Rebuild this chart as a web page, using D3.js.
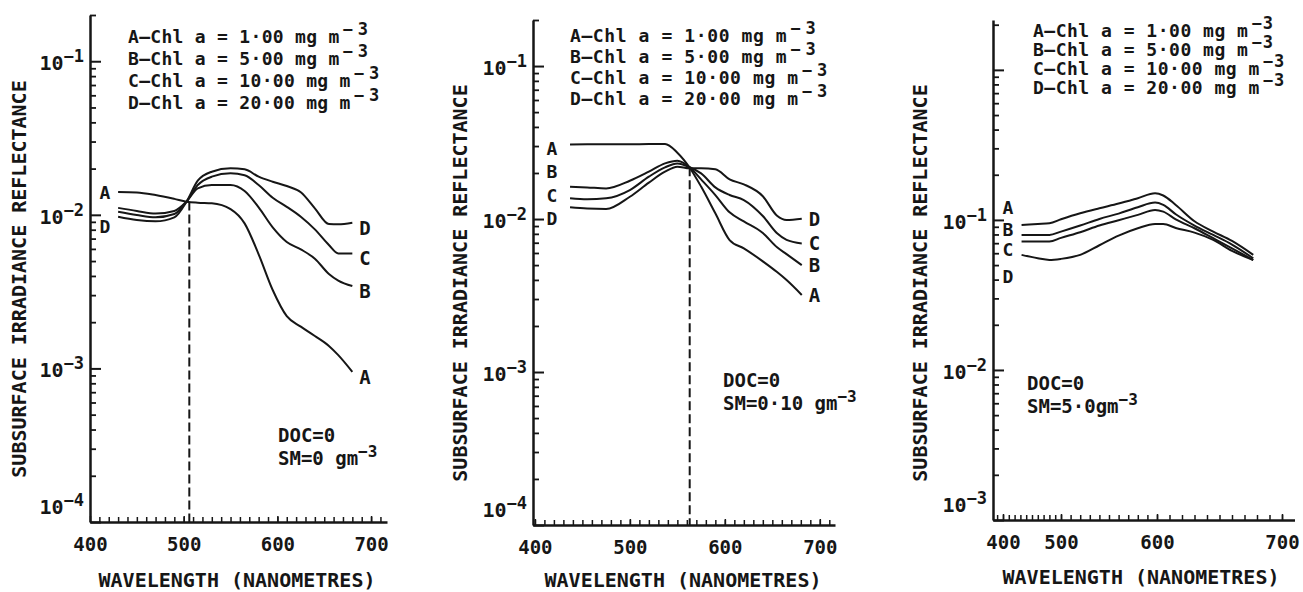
<!DOCTYPE html>
<html>
<head>
<meta charset="utf-8">
<script src="https://cdn.jsdelivr.net/npm/d3@7"></script>
<style>
  body { margin: 0; background: #fff; }
  svg text { font-family: "DejaVu Sans Mono", monospace; font-weight: bold; fill: #161616; }
  .axis path, .axis line { stroke: #161616; }
</style>
</head>
<body>
<svg id="chart" width="1303" height="592"></svg>
<script>
// Values (reflectance, log scale)
const seriesNames = ["A", "B", "C", "D"];
const chlLabels = ["1·00", "5·00", "10·00", "20·00"];
const wavelengthTicks = [400, 500, 600, 700];

// Panel 1: DOC = 0, SM = 0 g m-3
const p1Wavelength = [430, 450, 470, 490, 503, 515, 530, 550, 565, 580, 595, 610, 625, 640, 655, 665, 680];
const p1A = [0.0141, 0.0140, 0.01345, 0.0127, 0.01218, 0.0120, 0.0119, 0.0109, 0.0088, 0.00553, 0.00324, 0.00219, 0.00187, 0.001625, 0.0014, 0.00122, 0.00095];
const p1B = [0.0111, 0.0106, 0.0102, 0.0106, 0.01218, 0.01488, 0.01563, 0.01563, 0.01429, 0.01118, 0.00829, 0.00666, 0.00596, 0.00518, 0.00412, 0.00373, 0.00344];
const p1C = [0.01048, 0.00997, 0.00963, 0.01012, 0.01218, 0.01563, 0.01772, 0.01862, 0.01808, 0.01563, 0.01293, 0.01127, 0.00972, 0.00804, 0.00636, 0.00561, 0.00561];
const p1D = [0.00972, 0.00925, 0.00907, 0.00963, 0.01218, 0.01668, 0.01909, 0.02007, 0.01977, 0.01772, 0.01643, 0.0154, 0.01401, 0.01102, 0.00871, 0.00868, 0.00888];
const p1Decades = [1e-1, 1e-2, 1e-3, 1e-4];
const p1Crossing = [506, 0.0122];
const p1LeftTags = ["A", "D"];
const p1LeftTagAt = [0.01406, 0.00836];
const p1Note = ["DOC=0", "SM=0 gm"];

// Panel 2: DOC = 0, SM = 0.10 g m-3
const p2Wavelength = [437, 455, 475, 500, 520, 537, 550, 563, 575, 590, 605, 620, 640, 655, 665, 681];
const p2A = [0.03076, 0.0308, 0.0308, 0.0308, 0.0309, 0.0309, 0.02715, 0.02165, 0.0163, 0.0109, 0.00729, 0.00643, 0.00529, 0.0045, 0.00399, 0.00319];
const p2B = [0.01627, 0.0161, 0.01586, 0.0178, 0.0204, 0.0231, 0.02406, 0.0218, 0.01816, 0.01435, 0.01106, 0.00965, 0.0081, 0.00653, 0.0059, 0.005];
const p2C = [0.01365, 0.01345, 0.01365, 0.01547, 0.01891, 0.02176, 0.0231, 0.0218, 0.01988, 0.0161, 0.01435, 0.01331, 0.01046, 0.00806, 0.0073, 0.00693];
const p2D = [0.01192, 0.0117, 0.01163, 0.01399, 0.0173, 0.02039, 0.02198, 0.02144, 0.02144, 0.02112, 0.01816, 0.01686, 0.0141, 0.0105, 0.00985, 0.01005];
const p2Decades = [1e-1, 1e-2, 1e-3, 1e-4];
const p2Crossing = [563, 0.0218];
const p2LeftTags = ["A", "B", "C", "D"];
const p2LeftTagAt = [0.0291, 0.0203, 0.01435, 0.01015];
const p2Note = ["DOC=0", "SM=0·10 gm"];

// Panel 3: DOC = 0, SM = 5.0 g m-3
const p3Wavelength = [432, 460, 480, 500, 520, 540, 560, 580, 598, 605, 615, 630, 645, 660, 677];
const p3A = [0.0926, 0.094, 0.095, 0.101, 0.1108, 0.1196, 0.1285, 0.1395, 0.1506, 0.1455, 0.1259, 0.098, 0.0836, 0.0724, 0.0585];
const p3B = [0.0794, 0.0794, 0.0794, 0.0836, 0.0917, 0.1015, 0.1102, 0.1215, 0.1305, 0.1259, 0.1091, 0.0917, 0.0794, 0.0685, 0.0555];
const p3C = [0.0717, 0.0717, 0.0717, 0.0759, 0.0828, 0.0917, 0.0995, 0.108, 0.1166, 0.1136, 0.101, 0.088, 0.0755, 0.0647, 0.0541];
const p3D = [0.0585, 0.0555, 0.0541, 0.055, 0.0585, 0.0678, 0.0786, 0.088, 0.094, 0.094, 0.0884, 0.0823, 0.0736, 0.0622, 0.0541];
const p3Decades = [1e-1, 1e-2, 1e-3];
const p3LeftTags = ["A", "B", "C", "D"];
const p3LeftTagAt = [0.1202, 0.0858, 0.0631, 0.0417];
const p3Note = ["DOC=0", "SM=5·0gm"];

const svg = d3.select("#chart");

const panels = [
    {
        wl: p1Wavelength, series: [p1A, p1B, p1C, p1D], decades: p1Decades, crossing: p1Crossing,
        leftTags: p1LeftTags, leftTagAt: p1LeftTagAt, note: p1Note,
        xDomain: [400, 717], xRange: [90, 387], yDomain: [1e-4, 0.2], bottom: 522, top: 15,
        leftTagX: 105, rightTagDy: 5, legend: { x: 128, y: 43, gap: 22, spacing: 0.3, supSpacing: 5 },
        noteAt: [278, 442], yTitle: [19, 279], xTitle: [237, 587]
    },
    {
        wl: p2Wavelength, series: [p2A, p2B, p2C, p2D], decades: p2Decades, crossing: p2Crossing,
        leftTags: p2LeftTags, leftTagAt: p2LeftTagAt, note: p2Note,
        xDomain: [398, 716], xRange: [533, 835], yDomain: [1e-4, 0.2], bottom: 525, top: 20,
        leftTagX: 552, rightTagDy: 0, legend: { x: 570, y: 42, gap: 21, spacing: 0.6, supSpacing: 5 },
        noteAt: [723, 387], yTitle: [460, 283], xTitle: [683, 587]
    },
    {
        wl: p3Wavelength, series: [p3A, p3B, p3C, p3D], decades: p3Decades, crossing: null,
        leftTags: p3LeftTags, leftTagAt: p3LeftTagAt, note: p3Note,
        // the scan's tick labels are unevenly spaced, so this axis is piecewise
        xDomain: [383, 400, 500, 600, 700, 710], xRange: [993, 1003, 1061, 1157, 1282, 1294.5],
        yDomain: [1e-3, 2.15], bottom: 520, top: 20,
        leftTagX: 1008, rightTagDy: 0, legend: { x: 1033, y: 37, gap: 19, spacing: 0.5, supSpacing: 1 },
        noteAt: [1027, 390], yTitle: [920, 283], xTitle: [1141, 584], noRightTags: true
    }
];

function drawPanel(cfg) {
    const g = svg.append("g");
    const x = d3.scaleLinear().domain(cfg.xDomain).range(cfg.xRange);
    const y = d3.scaleLog().domain(cfg.yDomain).range([cfg.bottom, cfg.top]);
    const x0 = cfg.xRange[0];
    const isDecade = v => Math.abs(Math.log10(v) - Math.round(Math.log10(v))) < 1e-6;

    // y axis: minor ticks, then decade ticks
    g.append("g").attr("class", "axis")
        .attr("transform", `translate(${x0},0)`)
        .call(d3.axisLeft(y).tickValues(y.ticks().filter(v => !isDecade(v)))
            .tickSize(-6).tickSizeOuter(0).tickFormat(""))
        .call(a => a.select(".domain").attr("stroke-width", 2.5))
        .call(a => a.selectAll(".tick line").attr("stroke-width", 1.8));

    g.append("g").attr("class", "axis")
        .attr("transform", `translate(${x0},0)`)
        .call(d3.axisLeft(y).tickValues(y.ticks().filter(isDecade))
            .tickSize(-11).tickSizeOuter(0).tickFormat(""))
        .call(a => a.select(".domain").remove())
        .call(a => a.selectAll(".tick line").attr("stroke-width", 2));

    // decade labels 10^-n
    cfg.decades.forEach(v => {
        const yy = v === cfg.yDomain[0] ? y(v) - 8 : y(v) + 9;
        const t = g.append("text")
            .attr("x", x0 - 6).attr("y", yy)
            .attr("text-anchor", "end")
            .style("font-size", "20px");
        t.append("tspan").text("10");
        t.append("tspan").attr("dy", -8).style("font-size", "17px")
            .text("−" + Math.round(-Math.log10(v)));
    });

    // x axis: 10 nm minor ticks, labelled hundreds
    const [xmin, xmax] = d3.extent(cfg.xDomain);
    g.append("g").attr("class", "axis")
        .attr("transform", `translate(0,${cfg.bottom})`)
        .call(d3.axisBottom(x).tickValues(d3.range(390, 720, 10).filter(v => v > xmin && v < xmax))
            .tickSize(-5).tickSizeOuter(0).tickFormat(""))
        .call(a => a.select(".domain").attr("stroke-width", 2.5))
        .call(a => a.selectAll(".tick line").attr("stroke-width", 1.5));

    g.append("g").attr("class", "axis")
        .attr("transform", `translate(0,${cfg.bottom})`)
        .call(d3.axisBottom(x).tickValues(wavelengthTicks)
            .tickSize(-6).tickSizeOuter(0).tickPadding(16).tickFormat(d3.format("d")))
        .call(a => a.select(".domain").remove())
        .call(a => a.selectAll(".tick line").attr("stroke-width", 1.5))
        .call(a => a.selectAll("text").attr("fill", "#161616")
            .style("font-size", "19px").style("font-family", "DejaVu Sans Mono").style("font-weight", "bold"));

    // dashed drop line at the crossing point
    if (cfg.crossing) {
        g.append("line")
            .attr("x1", x(cfg.crossing[0])).attr("x2", x(cfg.crossing[0]))
            .attr("y1", y(cfg.crossing[1])).attr("y2", cfg.bottom)
            .attr("stroke", "#161616").attr("stroke-width", 2)
            .attr("stroke-dasharray", "9,4");
    }

    // curves
    const line = d3.line()
        .x(d => x(d[0]))
        .y(d => y(d[1]))
        .curve(d3.curveMonotoneX);

    cfg.series.forEach((vals, i) => {
        const pts = d3.zip(cfg.wl, vals);
        g.append("path")
            .datum(pts)
            .attr("fill", "none")
            .attr("stroke", "#161616")
            .attr("stroke-width", 2)
            .attr("stroke-linejoin", "round")
            .attr("d", line);

        if (!cfg.noRightTags) {
            const last = pts[pts.length - 1];
            g.append("text")
                .attr("x", x(last[0]) + 7)
                .attr("y", y(last[1]) + cfg.rightTagDy)
                .attr("dy", "0.36em")
                .style("font-size", "19px")
                .text(seriesNames[i]);
        }
    });

    // curve tags on the left
    cfg.leftTags.forEach((tag, i) => {
        g.append("text")
            .attr("x", cfg.leftTagX)
            .attr("y", y(cfg.leftTagAt[i]))
            .attr("dy", "0.36em")
            .attr("text-anchor", "middle")
            .style("font-size", "18px")
            .text(tag);
    });

    // legend of chlorophyll concentrations
    seriesNames.forEach((name, i) => {
        const t = g.append("text")
            .attr("x", cfg.legend.x)
            .attr("y", cfg.legend.y + i * cfg.legend.gap)
            .style("font-size", "18px")
            .style("letter-spacing", cfg.legend.spacing + "px");
        t.append("tspan").text(`${name}–Chl a = ${chlLabels[i]} mg m`);
        t.append("tspan").attr("dx", 3).attr("dy", -8)
            .style("font-size", "17px").style("letter-spacing", cfg.legend.supSpacing + "px").text("−3");
    });

    // DOC / SM note
    g.append("text")
        .attr("x", cfg.noteAt[0]).attr("y", cfg.noteAt[1])
        .style("font-size", "19px")
        .text(cfg.note[0]);
    const sm = g.append("text")
        .attr("x", cfg.noteAt[0]).attr("y", cfg.noteAt[1] + 23)
        .style("font-size", "19px");
    sm.append("tspan").text(cfg.note[1]);
    sm.append("tspan").attr("dy", -8).style("font-size", "16px").text("−3");

    // axis titles
    g.append("text")
        .attr("transform", `translate(${cfg.yTitle[0]},${cfg.yTitle[1]}) rotate(-90)`)
        .attr("text-anchor", "middle")
        .attr("dy", "0.36em")
        .style("font-size", "20px")
        .text("SUBSURFACE IRRADIANCE REFLECTANCE");

    g.append("text")
        .attr("x", cfg.xTitle[0]).attr("y", cfg.xTitle[1])
        .attr("text-anchor", "middle")
        .style("font-size", "20px")
        .text("WAVELENGTH (NANOMETRES)");
}

panels.forEach(drawPanel);
</script>
</body>
</html>
